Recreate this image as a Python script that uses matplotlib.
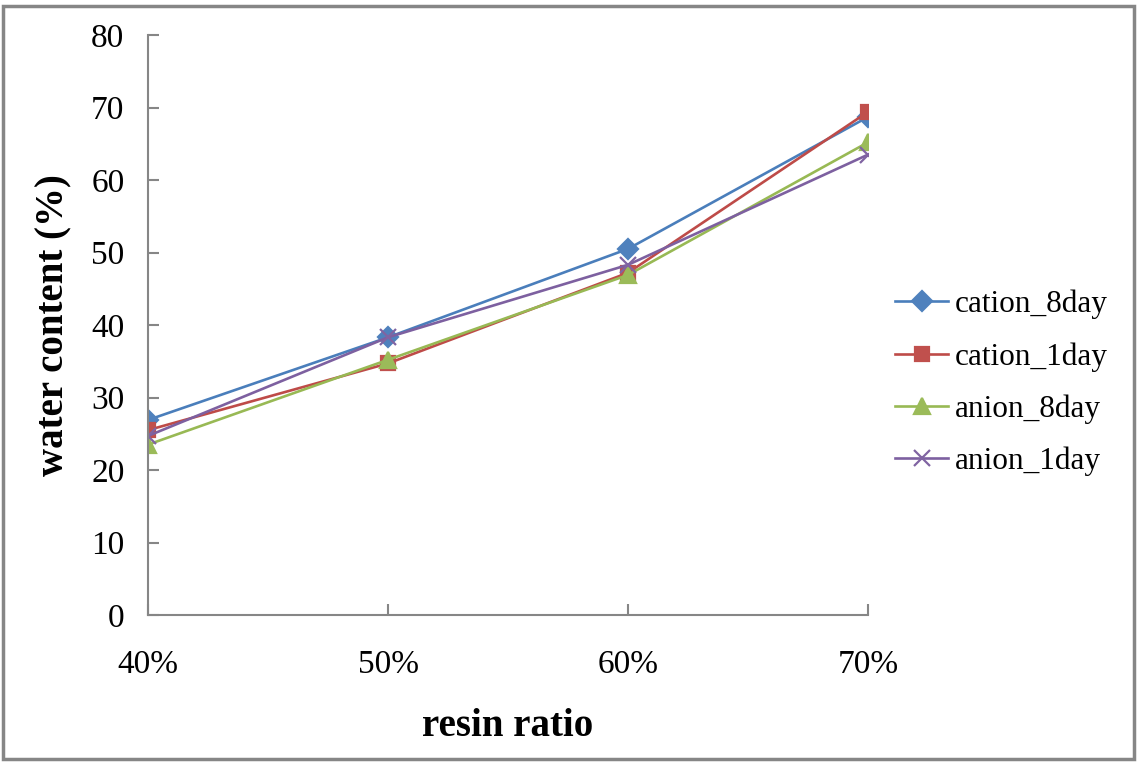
import matplotlib.pyplot as plt
from matplotlib.patches import Rectangle

plt.rcParams['font.family'] = ['Liberation Serif', 'DejaVu Serif']

# resin ratio categories and measured water content (%)
ratios = ['40%', '50%', '60%', '70%']
cation_8day = [26.9, 38.3, 50.5, 68.7]
cation_1day = [25.5, 34.7, 47.2, 69.4]
anion_8day = [23.5, 35.2, 46.9, 65.2]
anion_1day = [24.7, 38.3, 48.3, 63.5]

series = [
    ('cation_8day', cation_8day, '#4A7EBB', '#4F81BD', 'D', 10),
    ('cation_1day', cation_1day, '#BE4B48', '#C0504D', 's', 10),
    ('anion_8day', anion_8day, '#98B954', '#9BBB59', '^', 11),
    ('anion_1day', anion_1day, '#7D60A0', '#8064A2', 'x', 11),
]

fig = plt.figure(figsize=(11.37, 7.65), dpi=100)
ax = fig.add_axes([148 / 1137, 1 - 615 / 765, 720 / 1137, 580 / 765])

x = list(range(len(ratios)))
for name, vals, lc, mc, mk, ms in series:
    ax.plot(x, vals, color=lc, linewidth=1.9, marker=mk, markersize=ms,
            markerfacecolor=mc, markeredgecolor=mc, markeredgewidth=1.6,
            label=name)

ax.set_xlim(0, 3)
ax.set_ylim(0, 80)
ax.set_xticks(x)
ax.set_xticklabels(ratios)
ax.set_yticks(range(0, 81, 10))

for side in ['top', 'right']:
    ax.spines[side].set_visible(False)
for side in ['left', 'bottom']:
    ax.spines[side].set_color('#868686')
    ax.spines[side].set_linewidth(1.5)

ax.tick_params(axis='both', direction='in', length=8, width=1.5,
               color='#868686', labelsize=24)
ax.tick_params(axis='y', pad=17)
ax.tick_params(axis='x', pad=25)

ax.set_xlabel('resin ratio', fontsize=28, fontweight='bold')
ax.set_ylabel('water content (%)', fontsize=28, fontweight='bold')
ax.xaxis.set_label_coords(0.5, -0.16)
ax.yaxis.set_label_coords(-0.105, 0.5)

ax.legend(loc='center left', bbox_to_anchor=(1.0375, 0.4), frameon=False,
          borderaxespad=0, borderpad=0, fontsize=22.5, handlelength=1.7,
          handletextpad=0.22, labelspacing=0.73)

fig.patches.append(Rectangle((3 / 1137, 6 / 765), 1131 / 1137, 753 / 765,
                             transform=fig.transFigure, fill=False,
                             edgecolor='#868686', linewidth=2.5))

fig.savefig('out.png', dpi=100)
